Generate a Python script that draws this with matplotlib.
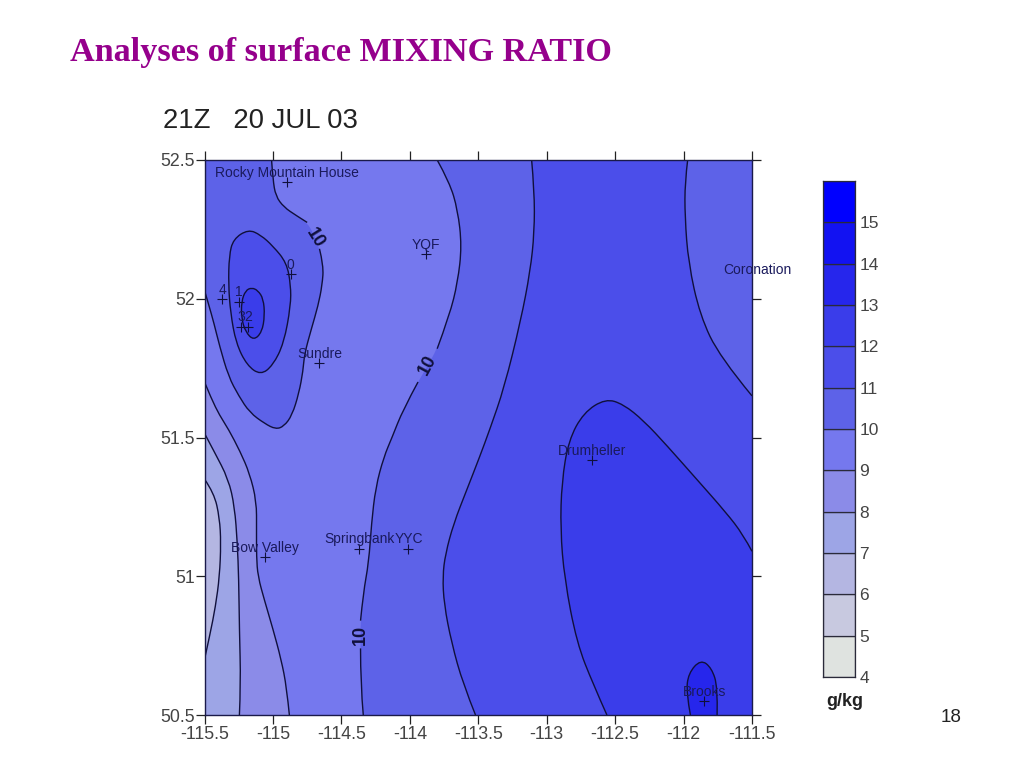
import matplotlib
matplotlib.use("Agg")
import matplotlib.pyplot as plt
from matplotlib.path import Path
from matplotlib.patches import PathPatch

# contour lines (lon, lat)
west10_lon = [-115.01, -115.00, -114.98, -114.92, -114.83, -114.75, -114.70, -114.66, -114.63, -114.64,
              -114.67, -114.72, -114.77, -114.78, -114.81, -114.86, -114.92, -114.98, -115.06, -115.17,
              -115.25, -115.325, -115.39, -115.43, -115.47, -115.50]
west10_lat = [52.50, 52.43, 52.37, 52.33, 52.30, 52.275, 52.23, 52.18, 52.12, 52.05,
              51.975, 51.89, 51.80, 51.74, 51.66, 51.58, 51.54, 51.53, 51.55, 51.59,
              51.65, 51.72, 51.83, 51.91, 51.98, 52.03]
west9_lon = [-115.50, -115.45, -115.39, -115.325, -115.24, -115.17, -115.12, -115.12, -115.12, -115.11,
             -115.06, -115.00, -114.94, -114.90, -114.88]
west9_lat = [51.70, 51.64, 51.58, 51.53, 51.45, 51.37, 51.27, 51.17, 51.07, 51.00,
             50.91, 50.81, 50.70, 50.60, 50.50]
west8_lon = [-115.50, -115.43, -115.325, -115.28, -115.26, -115.25, -115.245, -115.235, -115.245]
west8_lat = [51.515, 51.45, 51.35, 51.25, 51.12, 50.99, 50.81, 50.61, 50.50]
west7_lon = [-115.50, -115.43, -115.39, -115.38, -115.39, -115.42, -115.46, -115.50]
west7_lat = [51.35, 51.30, 51.21, 51.12, 51.00, 50.89, 50.79, 50.70]
mid10_lon = [-113.80, -113.71, -113.65, -113.62, -113.65, -113.71, -113.80, -113.88, -113.94, -114.05,
             -114.13, -114.19, -114.25, -114.28, -114.30, -114.34, -114.36, -114.36, -114.36, -114.34]
mid10_lat = [52.50, 52.42, 52.32, 52.19, 52.06, 51.94, 51.82, 51.75, 51.70, 51.60,
             51.50, 51.43, 51.32, 51.19, 51.05, 50.94, 50.84, 50.74, 50.61, 50.50]
mid11_lon = [-113.11, -113.09, -113.09, -113.12, -113.19, -113.31, -113.415, -113.49, -113.585, -113.68,
             -113.74, -113.76, -113.75, -113.695, -113.61, -113.52]
mid11_lat = [52.50, 52.39, 52.24, 52.10, 51.92, 51.68, 51.53, 51.43, 51.31, 51.19,
             51.08, 51.00, 50.90, 50.76, 50.61, 50.50]
east11_lon = [-111.97, -111.99, -111.99, -111.965, -111.88, -111.735, -111.50]
east11_lat = [52.50, 52.42, 52.295, 52.13, 51.94, 51.79, 51.65]
east12_lon = [-112.56, -112.66, -112.78, -112.87, -112.90, -112.89, -112.84, -112.73, -112.57, -112.44,
              -112.29, -112.12, -111.905, -111.69, -111.565, -111.50]
east12_lat = [50.50, 50.61, 50.76, 50.99, 51.17, 51.34, 51.49, 51.59, 51.64, 51.62,
              51.56, 51.47, 51.35, 51.23, 51.15, 51.09]
brooks13_lon = [-111.95, -111.98, -111.965, -111.875, -111.795, -111.75, -111.755]
brooks13_lat = [50.50, 50.58, 50.65, 50.70, 50.67, 50.60, 50.50]
loop11_lon = [-115.18, -115.29, -115.32, -115.325, -115.31, -115.27, -115.19, -115.09, -115.00, -114.92,
              -114.87, -114.87, -114.90, -115.00, -115.09]
loop11_lat = [52.25, 52.215, 52.155, 52.05, 51.95, 51.84, 51.76, 51.725, 51.76, 51.84,
              51.975, 52.05, 52.13, 52.19, 52.23]
loop12_lon = [-115.155, -115.20, -115.23, -115.23, -115.20, -115.14, -115.08, -115.06, -115.07, -115.11]
loop12_lat = [52.04, 52.03, 51.99, 51.93, 51.88, 51.85, 51.88, 51.94, 52.00, 52.03]

station_names = ["Rocky Mountain House", "YQF", "0", "4", "1", "3", "2", "Sundre", "Coronation",
                 "Drumheller", "Brooks", "Springbank", "YYC", "Bow Valley"]
station_lon = [-114.90, -113.88, -114.87, -115.37, -115.25, -115.23, -115.18, -114.66, -111.46,
               -112.67, -111.85, -114.37, -114.01, -115.06]
station_lat = [52.42, 52.16, 52.09, 52.00, 51.99, 51.90, 51.90, 51.77, 52.07,
               51.42, 50.55, 51.10, 51.10, 51.07]

level_values = [4, 5, 6, 7, 8, 9, 10, 11, 12, 13, 14, 15, 16]
level_colors = ["#dfe3e0", "#c8c9e0", "#b4b6e2", "#9da5e6", "#8b8be8", "#7578ee",
                "#5d62e8", "#4b4eea", "#3a3dea", "#2626ec", "#1212f2", "#0000ff"]
lon_ticks = [-115.5, -115, -114.5, -114, -113.5, -113, -112.5, -112, -111.5]
lon_tick_labels = ["-115.5", "-115", "-114.5", "-114", "-113.5", "-113", "-112.5", "-112", "-111.5"]
lat_ticks = [50.5, 51, 51.5, 52, 52.5]
lat_tick_labels = ["50.5", "51", "51.5", "52", "52.5"]

LINE_COLOR = "#10103c"
TEXT_COLOR = "#1a1a5c"
TICK_TEXT = "#444444"
W, H = 1024, 768


def color_for(level):
    return level_colors[level_values.index(level)]


def smooth(lons, lats, corners=()):
    """Open curve through midpoints, optional straight run along the map edge."""
    verts = [(lons[0], lats[0])]
    codes = [Path.MOVETO]
    for i in range(1, len(lons) - 1):
        end = ((lons[i] + lons[i + 1]) / 2, (lats[i] + lats[i + 1]) / 2)
        if i == len(lons) - 2:
            end = (lons[-1], lats[-1])
        verts += [(lons[i], lats[i]), end]
        codes += [Path.CURVE3, Path.CURVE3]
    for c in corners:
        verts.append(c)
        codes.append(Path.LINETO)
    return Path(verts, codes)


def smooth_loop(lons, lats):
    n = len(lons)
    mid = lambda i: ((lons[i] + lons[(i + 1) % n]) / 2, (lats[i] + lats[(i + 1) % n]) / 2)
    verts = [mid(n - 1)]
    codes = [Path.MOVETO]
    for i in range(n):
        verts += [(lons[i], lats[i]), mid(i)]
        codes += [Path.CURVE3, Path.CURVE3]
    return Path(verts, codes)


def fill_region(ax, path, level):
    ax.add_patch(PathPatch(path, facecolor=color_for(level), edgecolor="none", zorder=1))


def draw_line(ax, path):
    ax.add_patch(PathPatch(path, facecolor="none", edgecolor=LINE_COLOR, linewidth=1.0, zorder=2))


fig = plt.figure(figsize=(W / 100, H / 100), dpi=100, facecolor="white")
plt.rcParams["font.family"] = "Liberation Sans"

ax = fig.add_axes([204.5 / W, (H - 715) / H, 547.5 / W, 555 / H])
ax.set_xlim(-115.5, -111.5)
ax.set_ylim(50.5, 52.5)
ax.set_facecolor(color_for(9))

SW, SE, NE, NW = (-115.5, 50.5), (-111.5, 50.5), (-111.5, 52.5), (-115.5, 52.5)

# filled bands, painted from the outside in
fill_region(ax, smooth(west10_lon, west10_lat, [NW]), 10)
fill_region(ax, smooth_loop(loop11_lon, loop11_lat), 11)
fill_region(ax, smooth_loop(loop12_lon, loop12_lat), 12)
fill_region(ax, smooth(west9_lon, west9_lat, [SW]), 8)
fill_region(ax, smooth(west8_lon, west8_lat, [SW]), 7)
fill_region(ax, smooth(west7_lon, west7_lat), 6)
fill_region(ax, smooth(mid10_lon, mid10_lat, [SE, NE]), 10)
fill_region(ax, smooth(mid11_lon, mid11_lat, [SE, NE]), 11)
fill_region(ax, smooth(east11_lon, east11_lat, [NE]), 10)
fill_region(ax, smooth(east12_lon, east12_lat, [SE]), 12)
fill_region(ax, smooth(brooks13_lon, brooks13_lat), 13)

# contour lines, the 10 lines leave room for their labels
draw_line(ax, smooth(west10_lon[:6], west10_lat[:6]))
draw_line(ax, smooth(west10_lon[7:], west10_lat[7:]))
draw_line(ax, smooth(mid10_lon[:7], mid10_lat[:7]))
draw_line(ax, smooth(mid10_lon[8:17], mid10_lat[8:17]))
draw_line(ax, smooth(mid10_lon[17:], mid10_lat[17:]))
for lons, lats in [(west9_lon, west9_lat), (west8_lon, west8_lat), (west7_lon, west7_lat),
                   (mid11_lon, mid11_lat), (east11_lon, east11_lat), (east12_lon, east12_lat),
                   (brooks13_lon, brooks13_lat)]:
    draw_line(ax, smooth(lons, lats))
draw_line(ax, smooth_loop(loop11_lon, loop11_lat))
draw_line(ax, smooth_loop(loop12_lon, loop12_lat))

for lon, lat, rot in [(-114.69, 52.22, -58), (-113.87, 51.76, 62), (-114.36, 50.79, 90)]:
    ax.text(lon, lat, "10", rotation=rot, rotation_mode="anchor", ha="center", va="center",
            fontsize=13, fontweight="bold", color="#10103c", zorder=3)

ax.plot(station_lon, station_lat, linestyle="none", marker="+", markersize=6.5,
        markeredgewidth=0.8, color=LINE_COLOR, zorder=4)
for name, lon, lat in zip(station_names, station_lon, station_lat):
    ax.annotate(name, (lon, lat), xytext=(0, 6.5), textcoords="offset points", ha="center", va="center",
                fontsize=10, color=TEXT_COLOR, annotation_clip=False, zorder=5)

ax.set_xticks(lon_ticks, lon_tick_labels)
ax.set_yticks(lat_ticks, lat_tick_labels)
ax.tick_params(axis="both", which="major", direction="out", length=6.5, width=0.9, top=True, right=True,
               labelsize=12.8, labelcolor=TICK_TEXT, color="#222222", pad=1.5)
ax.tick_params(axis="y", pad=0.5)
for side, spine in ax.spines.items():
    spine.set_linewidth(1.0)
    spine.set_color("#1a1a4a")

# level key
cax = fig.add_axes([823 / W, (H - 677) / H, 32 / W, 496 / H])
cax.bar(0, [1] * 12, width=1, bottom=level_values[:-1], color=level_colors, edgecolor="#2a2a3a", linewidth=0.9)
cax.set_xlim(-0.5, 0.5)
cax.set_ylim(4, 16)
cax.set_xticks([])
cax.set_yticks(level_values[:-1], [str(v) for v in level_values[:-1]])
cax.yaxis.tick_right()
cax.tick_params(axis="y", length=0, pad=3, labelsize=12.5, labelcolor=TICK_TEXT)
for spine in cax.spines.values():
    spine.set_linewidth(0.9)
    spine.set_color("#2a2a3a")

fig.text(70 / W, 1 - 53 / H, "Analyses of surface MIXING RATIO", family="Liberation Serif",
         fontweight="bold", fontsize=24.6, color="#95008c", ha="left", va="center")
fig.text(163 / W, 1 - 121 / H, "21Z   20 JUL 03", fontsize=19.8, color="#222222", ha="left", va="center")
fig.text(844.5 / W, 1 - 702 / H, "g/kg", fontsize=13, fontweight="bold", color="#222222", ha="center", va="center")
fig.text(951 / W, 1 - 717 / H, "18", fontsize=13.5, color="#222222", ha="center", va="center")

fig.savefig("out.png", dpi=100)
